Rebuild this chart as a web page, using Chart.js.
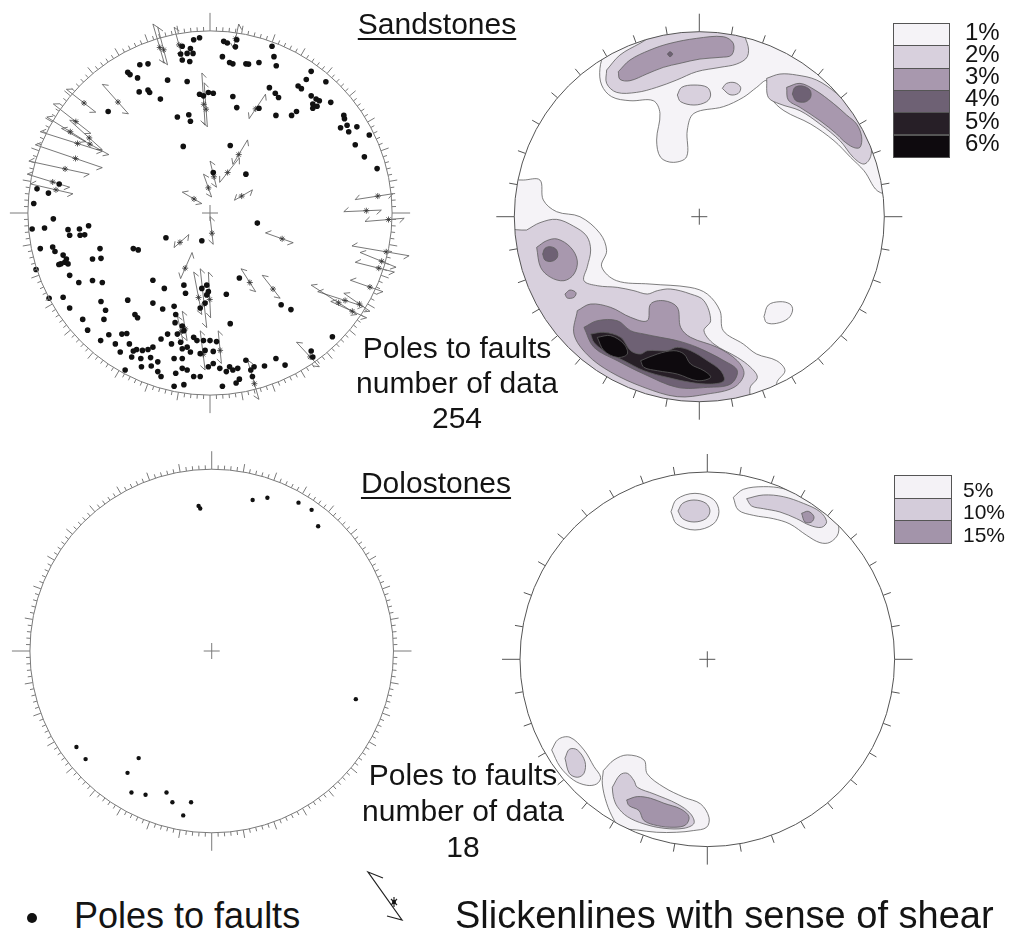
<!DOCTYPE html>
<html>
<head>
<meta charset="utf-8">
<script src="https://cdn.jsdelivr.net/npm/chart.js@4.4.0/dist/chart.umd.min.js"></script>
<style>
  body { margin: 0; background: #fff; width: 1012px; height: 940px; position: relative; overflow: hidden;
         font-family: "Liberation Sans", Arial, sans-serif; color: #141414; }
  .net { position: absolute; width: 460px; height: 460px; }
  .txt { position: absolute; white-space: nowrap; z-index: 2; }
  .title { font-size: 30px; line-height: 30px; text-decoration: underline; text-underline-offset: 4px;
           text-decoration-thickness: 2px; transform: translateX(-50%); }
  .block { font-size: 30px; text-align: center; transform: translateX(-50%); }
  .box { position: absolute; border: 1px solid #555; box-sizing: border-box; z-index: 2; }
</style>
</head>
<body>
<canvas id="sandPoles" class="net" width="460" height="460"></canvas>
<canvas id="sandDensity" class="net" width="460" height="460"></canvas>
<canvas id="doloPoles" class="net" width="460" height="460"></canvas>
<canvas id="doloDensity" class="net" width="460" height="460"></canvas>

<div class="txt title" style="left:437px;top:8.6px">Sandstones</div>
<div class="txt title" style="left:436px;top:467.6px">Dolostones</div>
<div class="txt block" style="left:457px;top:330px;line-height:35px">Poles to faults<br>number of data<br>254</div>
<div class="txt block" style="left:463px;top:757px;line-height:36px">Poles to faults<br>number of data<br>18</div>

<div style="position:absolute;left:27px;top:913px;width:10px;height:10px;border-radius:50%;background:#111"></div>
<div class="txt" style="left:74px;top:897.5px;font-size:36px;line-height:36px">Poles to faults</div>
<svg style="position:absolute;left:355px;top:862px" width="70" height="70">
  <g stroke="#222" stroke-width="1.2" fill="none">
    <polyline points="28,16 13,10 47,58 32,54"/>
    <path d="M36,37 L42,43 M42,37 L36,43 M39,35 L39,45"/>
  </g>
  <circle cx="39" cy="40" r="2" fill="#111"/>
</svg>
<div class="txt" style="left:455px;top:895.8px;font-size:38px;line-height:38px">Slickenlines with sense of shear</div>

<div id="legends"></div>

<script>
// ---- Sandstones: poles to faults (net units, primitive radius 558, y up) ----
const sandRadius = 558;
const sandPoles = [
  [-32,537],[-50,531],[42,526],[53,521],[82,531],[78,509],[190,511],[-85,511],[-60,504],[-90,487],[-70,489],[-52,489],
  [-85,469],[-62,464],[38,479],[60,461],[70,457],[110,457],[118,456],[150,461],[196,479],[203,451],[-215,454],[-190,457],
  [-252,431],[-245,424],[-222,414],[-130,407],[-70,403],[310,434],[295,409],[355,402],[270,389],[280,381],
  [-217,371],[-190,377],[-185,369],[-152,349],[-32,364],[-20,359],[-5,369],[10,367],[70,357],[82,323],[150,321],[182,384],
  [200,367],[210,354],[310,359],[325,349],[335,344],[315,334],[328,327],[315,321],[370,339],[-312,311],[-100,294],[-65,301],
  [-60,281],[202,299],[250,299],[265,311],[410,299],[412,289],[400,261],[420,269],[425,249],[450,264],[488,239],
  [-82,204],[62,207],[445,209],[473,172],[512,136],[110,119],[10,124],[-462,89],[-530,74],[-495,61],[-540,29],[-480,-18],
  [-545,-49],[-507,-46],[-435,-51],[-400,-49],[-372,-39],[-430,-68],[-398,-68],[-384,-67],[-520,-109],[-482,-104],[-475,-118],
  [-450,-129],[-457,-156],[-445,-151],[-435,-156],[-463,-158],[-440,-141],[-337,-109],[-360,-141],[-334,-139],[-235,-109],
  [-220,-113],[-135,-76],[-25,-85],[-533,-173],[-430,-191],[-402,-213],[-360,-207],[-330,-213],[145,-31],
  [-175,-206],[-140,-231],[-80,-221],[-75,-246],[-10,-221],[-25,-231],[-5,-241],[-10,-251],[-15,-276],[-30,-291],[50,-249],
  [90,-199],[218,-281],[248,-296],[-493,-261],[-450,-258],[-430,-291],[-390,-326],[-375,-359],[-334,-271],[-320,-298],
  [-325,-326],[-252,-267],[-230,-311],[-222,-321],[-175,-276],[-145,-294],[-110,-286],[-105,-311],[-107,-336],[-85,-346],
  [-80,-361],[-100,-371],[62,-339],[375,-379],
  [-335,-391],[-310,-373],[-290,-401],[-270,-371],[-255,-369],[-247,-401],[-235,-423],[-225,-418],[-207,-421],[-190,-418],
  [-175,-411],[-150,-386],[-130,-371],[-118,-401],[-90,-396],[-85,-416],[-70,-411],[-50,-381],[-40,-391],[-20,-391],[0,-391],
  [20,-394],[-275,-426],[-240,-441],[-212,-446],[-182,-443],[-160,-456],[-110,-446],[-85,-446],[-60,-426],[-30,-431],
  [-15,-421],[10,-424],[-260,-481],[-210,-471],[-180,-469],[-160,-486],[-150,-501],[-105,-491],[-85,-476],[-70,-481],
  [-50,-501],[-30,-501],[-5,-471],[10,-461],[30,-476],[50,-486],[60,-471],[70,-481],[85,-476],[110,-451],[125,-481],
  [135,-471],[130,-501],[167,-469],[202,-446],[230,-466],[-80,-526],[-110,-531],[38,-531],[80,-521],[90,-509],[310,-423],[315,-441]
];

// slickenlines: [x1, y1, x2, y2]
const sandSlicks = [
  [-175,579,-140,459],[-160,569,-130,454],[-110,569,-85,479],[88,579,72,504],[-25,429,-15,269],[-18,399,-8,264],
  [-330,394,-250,304],[170,364,120,289],
  [-440,379,-350,309],[-480,334,-365,244],[-500,294,-380,219],[-520,249,-330,189],[-455,259,-310,179],[-535,209,-330,139],
  [-555,159,-370,119],[-560,119,-430,79],[-550,89,-420,59],[-430,284,-330,194],
  [115,224,70,149],[0,159,20,79],[90,169,30,94],[-20,119,5,49],[-85,64,-25,29],[130,71,75,39],[0,-11,10,-96],
  [-65,-66,-110,-106],[170,-61,255,-91],
  [445,41,560,59],[410,4,525,9],[475,-26,595,-16],[435,-101,610,-131],[460,-121,570,-166],[445,-151,565,-181],
  [430,-206,530,-241],[310,-221,450,-311],[330,-241,470,-286],[370,-271,480,-321],[410,-246,490,-301],
  [-55,-121,-90,-201],[-50,-181,-25,-311],[-30,-171,-10,-351],[-5,-181,2,-321],[-85,-301,-70,-391],[-30,-361,-15,-481],
  [25,-361,35,-461],[95,-171,140,-241],[160,-191,215,-261],[115,-451,150,-571],[265,-396,335,-471],[-100,-316,-82,-396]
];

// ---- Sandstones: contoured pole density (primitive radius 555) ----
const sandDensityRadius = 555;
const sandLevelLabels = ['1%', '2%', '3%', '4%', '5%', '6%'];
const sandLevelColors = ['#f5f3f7', '#d8d0dd', '#a898ae', '#6e6174', '#271f27', '#0e0a0e'];
const sandLevel1 = [
  [[-233,750],[-233,535],[-283,490],[-298,445],[-293,395],[-263,360],[-208,348],[-138,348],[-118,310],[-128,230],[-116,178],
   [-78,163],[-38,180],[-36,260],[-16,310],[72,330],[132,358],[172,388],[202,408],[214,358],[254,318],[334,278],[404,228],
   [454,178],[494,138],[544,72],[672,72],[672,750]],
  [[-528,110],[-478,110],[-468,50],[-428,15],[-358,0],[-298,-50],[-278,-102],[-293,-150],[-248,-192],[-148,-202],[-28,-212],
   [24,-232],[62,-282],[72,-342],[132,-382],[172,-412],[232,-432],[257,-462],[232,-500],[232,-650],[-728,-650],[-728,105]],
  [[194,-300],[207,-265],[242,-255],[272,-262],[280,-280],[267,-305],[232,-320],[202,-318]]
];
const sandLevel2 = [
  [[-278,440],[-238,485],[-178,520],[-88,570],[22,580],[112,570],[144,520],[144,480],[112,458],[62,448],[-8,435],[-68,410],
   [-128,388],[-188,373],[-248,373],[-278,400]],
  [[-66,365],[-53,388],[-16,395],[24,388],[34,365],[22,345],[-16,335],[-56,345]],
  [[69,385],[82,400],[107,402],[124,388],[117,370],[92,366]],
  [[202,415],[242,428],[292,425],[352,410],[412,370],[462,320],[494,270],[514,220],[514,180],[494,158],[462,178],[422,228],
   [362,278],[302,318],[242,338],[207,358]],
  [[-518,-40],[-478,-18],[-428,-8],[-378,-28],[-338,-58],[-326,-100],[-336,-150],[-346,-192],[-306,-207],[-246,-212],
   [-196,-222],[-156,-232],[-126,-222],[-86,-217],[-26,-232],[14,-252],[34,-312],[14,-342],[44,-382],[114,-422],[154,-452],
   [174,-482],[152,-515],[152,-650],[-728,-650],[-728,-50]]
];
const sandLevel3 = [
  [[-243,435],[-208,470],[-148,500],[-88,520],[-8,535],[72,540],[102,520],[97,485],[62,478],[2,473],[-58,460],[-108,448],
   [-158,428],[-208,408],[-238,412]],
  [[262,388],[302,400],[347,380],[402,340],[442,305],[472,278],[487,240],[482,208],[462,208],[432,228],[412,248],[362,288],
   [302,328],[267,350]],
  [[-488,-92],[-458,-72],[-426,-67],[-386,-92],[-366,-132],[-376,-172],[-406,-192],[-446,-182],[-476,-152]],
  [[-403,-232],[-388,-220],[-370,-228],[-376,-242],[-396,-244]],
  [[-366,-282],[-326,-262],[-266,-272],[-206,-302],[-156,-312],[-146,-262],[-106,-252],[-66,-272],[-56,-332],[-26,-362],
   [54,-392],[114,-432],[134,-472],[104,-512],[24,-532],[-66,-540],[-166,-512],[-266,-466],[-336,-414],[-376,-352]]
];
const sandLevel4 = [
  [[-96,488],[-88,495],[-80,488],[-88,480]],
  [[279,368],[287,388],[310,392],[332,380],[334,358],[317,344],[290,348]],
  [[-470,-112],[-463,-95],[-446,-90],[-428,-100],[-426,-122],[-443,-134],[-463,-130]],
  [[-346,-332],[-306,-312],[-246,-312],[-206,-342],[-166,-352],[-116,-362],[-66,-372],[-6,-392],[74,-432],[114,-462],
   [94,-502],[24,-512],[-66,-512],[-166,-472],[-246,-432],[-316,-392]]
];
const sandLevel5 = [
  [[-326,-352],[-286,-347],[-236,-362],[-206,-402],[-176,-412],[-156,-402],[-96,-402],[-66,-392],[-26,-402],[24,-432],
   [64,-462],[74,-492],[34,-502],[-26,-497],[-96,-482],[-166,-462],[-226,-432],[-286,-402],[-316,-377]]
];
const sandLevel6 = [
  [[-306,-362],[-266,-357],[-226,-382],[-216,-412],[-246,-422],[-286,-402]],
  [[-176,-432],[-126,-412],[-76,-402],[-46,-412],[-26,-442],[14,-462],[34,-482],[-6,-492],[-66,-472],[-126,-462],[-166,-452]]
];

// ---- Dolostones: poles to faults (primitive radius 555) ----
const doloRadius = 555;
const doloPoles = [
  [-40,443],[-35,435],[125,461],[170,468],[265,453],[305,431],[325,381],[440,-147],[-413,-293],[-385,-330],
  [-223,-327],[-257,-372],[-245,-432],[-202,-439],[-138,-432],[-120,-462],[-63,-462],[-87,-502]
];

// ---- Dolostones: contoured pole density (primitive radius 562) ----
const doloDensityRadius = 562;
const doloLevelLabels = ['5%', '10%', '15%'];
const doloLevelColors = ['#f4f2f6', '#d4ccda', '#a394aa'];
const doloLevel1 = [
  [[-109,443],[-92,480],[-37,498],[18,480],[35,443],[18,406],[-37,388],[-92,406]],
  [[78,486],[108,510],[168,518],[228,512],[298,486],[348,458],[388,418],[393,378],[368,351],[338,350],[298,372],[248,406],
   [198,422],[138,432],[93,448]],
  [[-467,-272],[-447,-240],[-412,-234],[-370,-272],[-340,-322],[-320,-354],[-332,-374],[-362,-378],[-402,-362],[-442,-322]],
  [[-312,-334],[-280,-302],[-240,-287],[-190,-302],[-180,-344],[-130,-384],[-70,-414],[-20,-434],[5,-474],[-2,-504],
   [-42,-514],[-92,-519],[-152,-519],[-212,-512],[-262,-505],[-280,-482],[-302,-432],[-315,-374]]
];
const doloLevel2 = [
  [[-88,445],[-74,468],[-40,478],[-4,468],[8,445],[-4,422],[-40,412],[-74,422]],
  [[118,482],[168,493],[228,488],[288,468],[338,443],[358,413],[343,396],[308,402],[268,422],[218,442],[168,452],[133,460]],
  [[-427,-297],[-414,-270],[-390,-272],[-367,-307],[-370,-342],[-390,-354],[-414,-342]],
  [[-285,-384],[-262,-347],[-240,-342],[-220,-364],[-210,-384],[-160,-404],[-90,-434],[-50,-464],[-40,-492],[-70,-507],
   [-130,-507],[-190,-494],[-240,-472],[-270,-442],[-282,-412]]
];
const doloLevel3 = [
  [[283,438],[303,444],[320,428],[313,412],[293,412]],
  [[-242,-422],[-210,-412],[-170,-417],[-130,-432],[-80,-449],[-55,-472],[-65,-497],[-100,-504],[-150,-499],[-190,-484],
   [-205,-454],[-235,-439]]
];

// primitive circle, tick marks and centre cross, drawn from the chart's own scales
const netFrame = {
  id: 'netFrame',
  beforeDatasetsDraw(chart, args, o) {
    if (!o.clip) return;
    const g = frameGeom(chart, o.R);
    chart.ctx.save();
    chart.ctx.beginPath();
    chart.ctx.arc(g.cx, g.cy, g.r, 0, Math.PI * 2);
    chart.ctx.clip();
  },
  afterDatasetsDraw(chart, args, o) {
    const ctx = chart.ctx;
    const g = frameGeom(chart, o.R);
    if (o.clip) ctx.restore();
    ctx.save();
    ctx.strokeStyle = o.color;
    ctx.lineWidth = 1;
    ctx.beginPath();
    ctx.arc(g.cx, g.cy, g.r, 0, Math.PI * 2);
    ctx.stroke();
    ctx.beginPath();
    for (let d = 0; d < 360; d += o.step) {
      const len = d % 90 === 0 ? 18 : d % 10 === 0 ? o.major : o.minor;
      const a = d * Math.PI / 180, s = Math.sin(a), c = Math.cos(a);
      ctx.moveTo(g.cx + s * g.r, g.cy - c * g.r);
      ctx.lineTo(g.cx + s * (g.r + len), g.cy - c * (g.r + len));
    }
    ctx.moveTo(g.cx - 8, g.cy); ctx.lineTo(g.cx + 8, g.cy);
    ctx.moveTo(g.cx, g.cy - 8); ctx.lineTo(g.cx, g.cy + 8);
    ctx.stroke();
    ctx.restore();
  }
};

function frameGeom(chart, R) {
  const xs = chart.scales.x, ys = chart.scales.y;
  const cx = xs.getPixelForValue(0), cy = ys.getPixelForValue(0);
  return { cx, cy, r: xs.getPixelForValue(R) - cx };
}

function toPoints(list) {
  return list.map(([x, y]) => ({ x, y }));
}

function slickLines(lines, R) {
  const out = [];
  const b = R * 0.035, ang = 40 * Math.PI / 180;
  const c = Math.cos(ang), s = Math.sin(ang);
  lines.forEach(([x1, y1, x2, y2]) => {
    const L = Math.hypot(x2 - x1, y2 - y1);
    const ux = (x2 - x1) / L, uy = (y2 - y1) / L;
    out.push({ x: x1 + b * (ux * c - uy * s), y: y1 + b * (ux * s + uy * c) });
    out.push({ x: x1, y: y1 }, { x: x2, y: y2 });
    out.push({ x: x2 + b * (-ux * c + uy * s), y: y2 + b * (-ux * s - uy * c) });
    out.push({ x: x2, y: null });
  });
  return out;
}

function slickMarks(lines) {
  return lines.map(([x1, y1, x2, y2]) => ({ x: x1 + 0.6 * (x2 - x1), y: y1 + 0.6 * (y2 - y1) }));
}

function contourSets(levels, colors) {
  const sets = [];
  levels.forEach((polys, i) => {
    polys.forEach(p => {
      sets.push({
        data: toPoints(p.concat([p[0]])),
        showLine: true,
        fill: 'shape',
        backgroundColor: colors[i],
        borderColor: '#5e5e5e',
        borderWidth: 0.8,
        tension: 0.35,
        pointRadius: 0,
        order: 20 - i
      });
    });
  });
  return sets;
}

function makeNet(id, cx, cy, rPx, R, datasets, frame) {
  const canvas = document.getElementById(id);
  const left = Math.round(cx - 230), top = Math.round(cy - 230);
  canvas.style.left = left + 'px';
  canvas.style.top = top + 'px';
  const k = R / rPx;
  new Chart(canvas, {
    type: 'scatter',
    data: { datasets },
    options: {
      responsive: false,
      animation: false,
      devicePixelRatio: 1,
      events: [],
      layout: { padding: 0 },
      plugins: {
        legend: { display: false },
        tooltip: { enabled: false },
        netFrame: Object.assign({ R }, frame)
      },
      scales: {
        x: { type: 'linear', display: false, min: (left - cx) * k, max: (left + 460 - cx) * k },
        y: { type: 'linear', display: false, min: (cy - top - 460) * k, max: (cy - top) * k }
      }
    },
    plugins: [netFrame]
  });
}

makeNet('sandPoles', 210, 213, 186, sandRadius, [
  { data: toPoints(sandPoles), pointRadius: 2.8, pointBackgroundColor: '#111', pointBorderWidth: 0, order: 0 },
  { data: slickMarks(sandSlicks), pointStyle: 'star', pointRadius: 3, pointBorderColor: '#333', pointBorderWidth: 0.8, order: 1 },
  { data: slickLines(sandSlicks, sandRadius), showLine: true, pointRadius: 0, borderColor: '#555', borderWidth: 0.8, order: 2 }
], { clip: false, color: '#7a7a7a', step: 2, minor: 4, major: 8 });

makeNet('sandDensity', 699.3, 216.7, 185, sandDensityRadius,
  contourSets([sandLevel1, sandLevel2, sandLevel3, sandLevel4, sandLevel5, sandLevel6], sandLevelColors),
  { clip: true, color: '#555', step: 10, minor: 8, major: 8 });

makeNet('doloPoles', 211.7, 651, 185, doloRadius, [
  { data: toPoints(doloPoles), pointRadius: 2.2, pointBackgroundColor: '#111', pointBorderWidth: 0 }
], { clip: false, color: '#7a7a7a', step: 2, minor: 4, major: 8 });

makeNet('doloDensity', 707.3, 659.3, 187.3, doloDensityRadius,
  contourSets([doloLevel1, doloLevel2, doloLevel3], doloLevelColors),
  { clip: true, color: '#555', step: 10, minor: 8, major: 8 });

// density legends
function addLegend(labels, colors, left, top, rowH, width, fontSize, labelLeft, baseShift) {
  const host = document.getElementById('legends');
  labels.forEach((lab, i) => {
    const box = document.createElement('div');
    box.className = 'box';
    box.style.cssText = `left:${left}px;top:${top + i * rowH}px;width:${width}px;height:${rowH + 1}px;background:${colors[i]}`;
    host.appendChild(box);
    const t = document.createElement('div');
    t.className = 'txt';
    const base = top + (i + 1) * rowH - baseShift;
    t.style.cssText = `left:${labelLeft}px;top:${base - fontSize * 0.905}px;font-size:${fontSize}px;line-height:${fontSize}px`;
    t.style.lineHeight = 'normal';
    t.style.top = (base - fontSize * 0.905) + 'px';
    t.textContent = lab;
    host.appendChild(t);
  });
}
addLegend(sandLevelLabels, sandLevelColors, 893, 23, 22.3, 57, 24, 965, 6);
addLegend(doloLevelLabels, doloLevelColors, 894, 475, 22.7, 58, 21, 963, 1);
</script>
</body>
</html>
